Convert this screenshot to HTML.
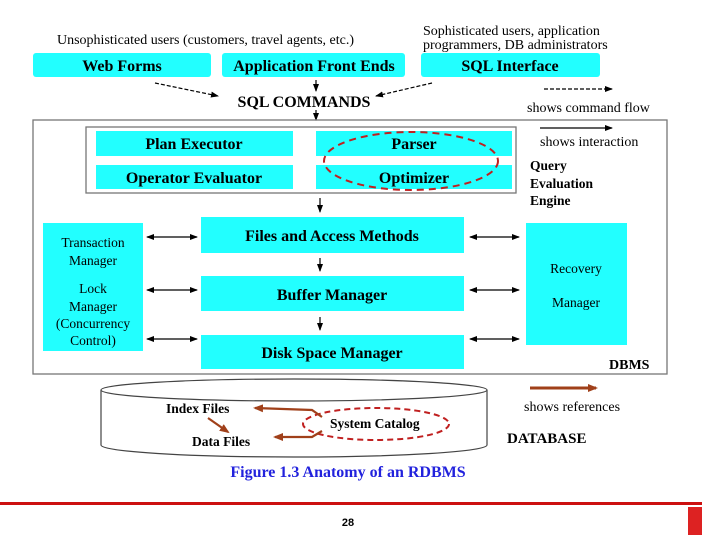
<!DOCTYPE html>
<html><head><meta charset="utf-8"><style>
html,body{margin:0;padding:0;background:#fff;}
svg{display:block;font-family:"Liberation Serif",serif;}
.b{font-weight:bold;}
</style></head><body>
<svg width="702" height="535" viewBox="0 0 702 535" xmlns="http://www.w3.org/2000/svg">
<defs>
<marker id="a" markerWidth="8" markerHeight="8" refX="7" refY="4" orient="auto" markerUnits="userSpaceOnUse"><path d="M0,1 L8,4 L0,7 Z" fill="#000"/></marker>
<marker id="as" markerWidth="8" markerHeight="8" refX="1" refY="4" orient="auto" markerUnits="userSpaceOnUse"><path d="M8,1 L0,4 L8,7 Z" fill="#000"/></marker>
<marker id="r" markerWidth="10" markerHeight="10" refX="8" refY="5" orient="auto" markerUnits="userSpaceOnUse"><path d="M0,1 L10,5 L0,9 Z" fill="#a0401a"/></marker>
</defs>
<g font-size="14">
<text x="57" y="44">Unsophisticated users (customers, travel agents, etc.)</text>
<text x="423" y="35">Sophisticated users, application</text>
<text x="423" y="49">programmers, DB administrators</text>
</g>
<g fill="#22ffff">
<rect x="33" y="53" width="178" height="24" rx="3"/>
<rect x="222" y="53" width="183" height="24" rx="3"/>
<rect x="421" y="53" width="179" height="24" rx="3"/>
</g>
<g class="b" font-size="16" text-anchor="middle">
<text x="122" y="71">Web Forms</text>
<text x="314" y="71">Application Front Ends</text>
<text x="510" y="71">SQL Interface</text>
<text x="304" y="107">SQL COMMANDS</text>
</g>
<g stroke="#000" stroke-width="1.2" fill="none">
<line x1="155" y1="83" x2="218" y2="96" stroke-dasharray="4,2" marker-end="url(#a)"/>
<line x1="432" y1="83" x2="376" y2="96" stroke-dasharray="4,2" marker-end="url(#a)"/>
<line x1="544" y1="89" x2="612" y2="89" stroke-dasharray="4,2" marker-end="url(#a)"/>
<line x1="316" y1="80" x2="316" y2="91" marker-end="url(#a)"/>
<line x1="316" y1="110" x2="316" y2="120" marker-end="url(#a)"/>
</g>
<text x="527" y="112" font-size="14">shows command flow</text>
<rect x="33" y="120" width="634" height="254" fill="none" stroke="#777" stroke-width="1.3"/>
<rect x="86" y="127" width="430" height="66" fill="none" stroke="#777" stroke-width="1.3"/>
<g fill="#22ffff">
<rect x="96" y="131" width="197" height="25"/>
<rect x="316" y="131" width="196" height="25"/>
<rect x="96" y="165" width="197" height="24"/>
<rect x="316" y="165" width="196" height="24"/>
</g>
<g class="b" font-size="16" text-anchor="middle">
<text x="194" y="149">Plan Executor</text>
<text x="414" y="149">Parser</text>
<text x="194" y="183">Operator Evaluator</text>
<text x="414" y="183">Optimizer</text>
</g>
<ellipse cx="411" cy="161" rx="87" ry="29" fill="none" stroke="#c02020" stroke-width="2" stroke-dasharray="7,5"/>
<line x1="540" y1="128" x2="612" y2="128" stroke="#000" stroke-width="1.2" marker-end="url(#a)"/>
<text x="540" y="146" font-size="14">shows interaction</text>
<g class="b" font-size="13.5">
<text x="530" y="170">Query</text>
<text x="530" y="188">Evaluation</text>
<text x="530" y="205">Engine</text>
</g>
<g fill="#22ffff">
<rect x="201" y="217" width="263" height="36"/>
<rect x="201" y="276" width="263" height="35"/>
<rect x="201" y="335" width="263" height="34"/>
<rect x="43" y="223" width="100" height="128"/>
<rect x="526" y="223" width="101" height="122"/>
</g>
<g class="b" font-size="16" text-anchor="middle">
<text x="332" y="241">Files and Access Methods</text>
<text x="332" y="300">Buffer Manager</text>
<text x="332" y="358">Disk Space Manager</text>
</g>
<g font-size="13.5" text-anchor="middle">
<text x="93" y="247">Transaction</text>
<text x="93" y="265">Manager</text>
<text x="93" y="293">Lock</text>
<text x="93" y="311">Manager</text>
<text x="93" y="328">(Concurrency</text>
<text x="93" y="345">Control)</text>
<text x="576" y="273">Recovery</text>
<text x="576" y="307">Manager</text>
</g>
<text x="609" y="369" class="b" font-size="14">DBMS</text>
<g stroke="#000" stroke-width="1.2" fill="none">
<line x1="320" y1="198" x2="320" y2="212" marker-end="url(#a)"/>
<line x1="320" y1="258" x2="320" y2="271" marker-end="url(#a)"/>
<line x1="320" y1="317" x2="320" y2="330" marker-end="url(#a)"/>
<line x1="147" y1="237" x2="197" y2="237" marker-start="url(#as)" marker-end="url(#a)"/>
<line x1="147" y1="290" x2="197" y2="290" marker-start="url(#as)" marker-end="url(#a)"/>
<line x1="147" y1="339" x2="197" y2="339" marker-start="url(#as)" marker-end="url(#a)"/>
<line x1="470" y1="237" x2="519" y2="237" marker-start="url(#as)" marker-end="url(#a)"/>
<line x1="470" y1="290" x2="519" y2="290" marker-start="url(#as)" marker-end="url(#a)"/>
<line x1="470" y1="339" x2="519" y2="339" marker-start="url(#as)" marker-end="url(#a)"/>
</g>
<path d="M101,390 L101,445 A193,12 0 0 0 487,445 L487,390" fill="#fff" stroke="#444" stroke-width="1.2"/>
<ellipse cx="294" cy="390" rx="193" ry="11" fill="#fff" stroke="#444" stroke-width="1.2"/>
<g class="b" font-size="13.5">
<text x="166" y="413">Index Files</text>
<text x="192" y="446">Data Files</text>
<text x="330" y="428">System Catalog</text>
</g>
<ellipse cx="376" cy="424" rx="73" ry="16" fill="none" stroke="#c02020" stroke-width="2" stroke-dasharray="6,4"/>
<g stroke="#a0401a" stroke-width="2.2" fill="none">
<polyline points="322,417 312,410 255,408" marker-end="url(#r)"/>
<polyline points="322,431 312,437 275,437" marker-end="url(#r)"/>
<line x1="208" y1="418" x2="228" y2="432" marker-end="url(#r)"/>
<line x1="530" y1="388" x2="596" y2="388" stroke-width="3" marker-end="url(#r)"/>
</g>
<text x="524" y="411" font-size="14">shows references</text>
<text x="507" y="443" class="b" font-size="15">DATABASE</text>
<text x="348" y="477" class="b" font-size="16" fill="#2222dd" text-anchor="middle">Figure 1.3 Anatomy of an RDBMS</text>
<rect x="0" y="502" width="702" height="3" fill="#cc1010"/>
<text x="348" y="526" font-family="Liberation Sans,sans-serif" font-weight="bold" font-size="11" text-anchor="middle">28</text>
<rect x="688" y="507" width="14" height="28" fill="#dd2222"/>
</svg>
</body></html>
